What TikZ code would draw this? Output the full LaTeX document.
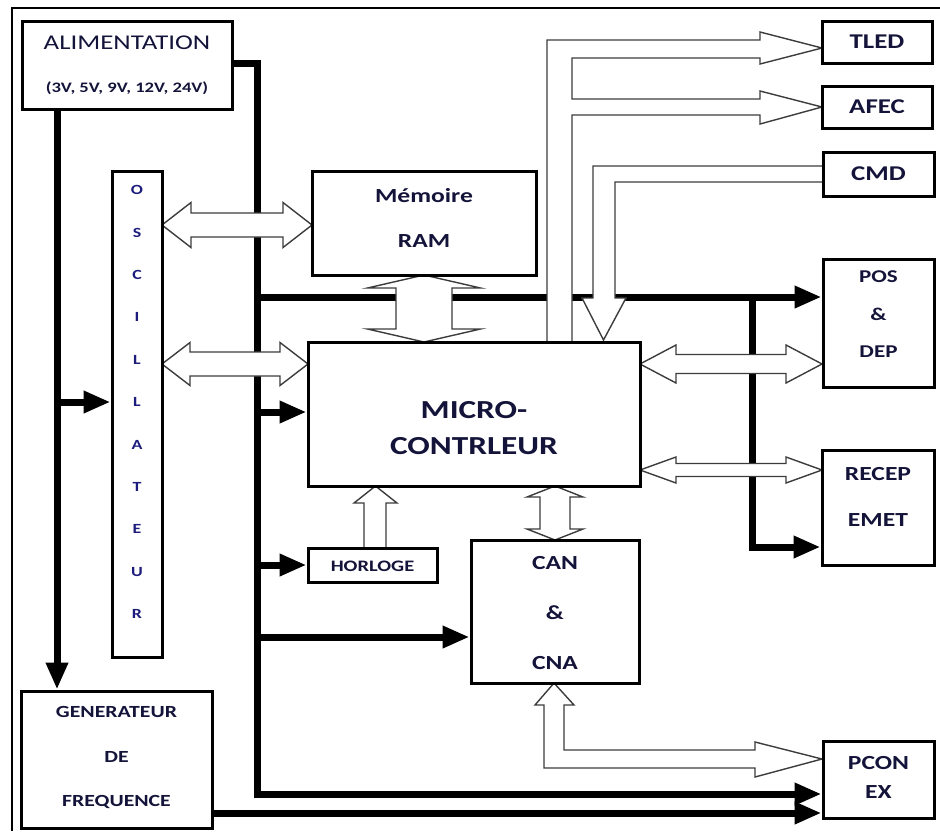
\documentclass[tikz,border=0pt]{standalone}
\usepackage{fontspec}
\setmainfont{Carlito}[FakeStretch=1.28]
\usetikzlibrary{arrows.meta,calc}
\pgfdeclarelayer{bg}
\pgfsetlayers{bg,main}
\definecolor{txtc}{HTML}{14143A}
\definecolor{oscc}{HTML}{1C1C7C}
\definecolor{holc}{HTML}{3C3C3C}
\tikzset{
 box/.style={draw=black, line width=3pt, fill=white, inner sep=0pt},
 lbl/.style={text=txtc, align=center, inner sep=0pt},
 power/.style={line width=7pt, draw=black, line join=miter},
 tipa/.style={-{Triangle[length=27pt,width=21pt]}},
 hollow/.style={draw=holc, line width=1.4pt, fill=white, line join=miter},
 frameline/.style={line width=2.5pt, draw=black}
}
\newcommand\fsz[2]{\fontsize{#1}{#2}\selectfont}
% horizontal double hollow arrow: x1 x2 yc shaft-half head-half head-length
\newcommand\hdbl[6]{\draw[hollow] (#1,#3) -- ({#1+#6},{#3-#5}) -- ({#1+#6},{#3-#4}) -- ({#2-#6},{#3-#4}) -- ({#2-#6},{#3-#5}) -- (#2,#3) -- ({#2-#6},{#3+#5}) -- ({#2-#6},{#3+#4}) -- ({#1+#6},{#3+#4}) -- ({#1+#6},{#3+#5}) -- cycle;}
% vertical double hollow arrow: y1 y2 xc shaft-half head-half head-length
\newcommand\vdbl[6]{\draw[hollow] (#3,#1) -- ({#3-#5},{#1+#6}) -- ({#3-#4},{#1+#6}) -- ({#3-#4},{#2-#6}) -- ({#3-#5},{#2-#6}) -- (#3,#2) -- ({#3+#5},{#2-#6}) -- ({#3+#4},{#2-#6}) -- ({#3+#4},{#1+#6}) -- ({#3+#5},{#1+#6}) -- cycle;}
\begin{document}
\begin{tikzpicture}[x=1pt,y=-1pt]
\useasboundingbox (0,0) rectangle (940,831);
\draw[frameline] (940,8) -- (12,8) -- (12,831);

% boxes
\node[box, minimum width=210, minimum height=88] (alim) at (127,65) {};
\node[box, minimum width=50, minimum height=486] (osc) at (137,414) {};
\node[box, minimum width=224, minimum height=104] (ram) at (424,223) {};
\node[box, minimum width=332, minimum height=144] (micro) at (474,414) {};
\node[box, minimum width=129, minimum height=34] (horloge) at (372.5,565) {};
\node[box, minimum width=168, minimum height=143] (can) at (555,611.5) {};
\node[box, minimum width=110, minimum height=42] (tled) at (877,42) {};
\node[box, minimum width=110, minimum height=42] (afec) at (877,107) {};
\node[box, minimum width=111, minimum height=44] (cmd) at (878.5,174) {};
\node[box, minimum width=111, minimum height=128] (pos) at (878.5,323) {};
\node[box, minimum width=112, minimum height=115] (recep) at (878,507.5) {};
\node[box, minimum width=111, minimum height=77] (pcon) at (878.5,779.5) {};
\node[box, minimum width=191, minimum height=137] (gen) at (116.5,759.5) {};

% labels
\node[lbl, font=\fsz{21}{21}] (alimT) at (127,43) {ALIMENTATION};
\node[lbl, font=\fsz{14.5}{14.5}\bfseries] (alimV) at (127,88) {(3V, 5V, 9V, 12V, 24V)};
\node[lbl, text=oscc, font=\fsz{14}{42.4}\bfseries] (oscT) at (137,402) {O\\S\\C\\I\\L\\L\\A\\T\\E\\U\\R};
\node[lbl, font=\fsz{20}{45}\bfseries] (ramT) at (424,218) {Mémoire\\RAM};
\node[lbl, font=\fsz{26}{36}\bfseries] (microT) at (474,428) {MICRO-\\CONTRLEUR};
\node[lbl, font=\fsz{16}{16}\bfseries] (horT) at (372.5,566) {HORLOGE};
\node[lbl, font=\fsz{20}{50}\bfseries] (canT) at (555,613) {CAN\\\&\\CNA};
\node[lbl, font=\fsz{21}{21}\bfseries] (tledT) at (tled) {TLED};
\node[lbl, font=\fsz{21}{21}\bfseries] (afecT) at (afec) {AFEC};
\node[lbl, font=\fsz{21}{21}\bfseries] (cmdT) at (cmd) {CMD};
\node[lbl, font=\fsz{18}{37.5}\bfseries] (posT) at (878.5,314.5) {POS\\\&\\DEP};
\node[lbl, font=\fsz{20}{46}\bfseries] (recepT) at (878,497) {RECEP\\EMET};
\node[lbl, font=\fsz{20}{29}\bfseries] (pconT) at (878.5,777.5) {PCON\\EX};
\node[lbl, font=\fsz{17}{44.5}\bfseries] (genT) at (116.5,757.5) {GENERATEUR\\DE\\FREQUENCE};

% helper coordinates
\coordinate (busX) at (257,0);
\coordinate (leftX) at (57,0);
\coordinate (tapX) at (752,0);
\coordinate (yAlim) at (0,63);
\coordinate (yPos) at (0,297);
\coordinate (yMic) at (0,412);
\coordinate (yRec) at (0,547);
\coordinate (yCan) at (0,637);
\coordinate (yOsc) at (0,402);
\coordinate (yBus) at (0,794);
\coordinate (yGen) at (0,813);

\begin{pgfonlayer}{bg}
% thick supply lines
\draw[power,tipa] (alim.east |- yAlim) -- (busX |- yAlim) -- (busX |- yBus) -- (pcon.west |- yBus);
\draw[power,tipa] (busX |- yPos) -- (pos.west |- yPos);
\draw[power,tipa] (busX |- yMic) -- (micro.west |- yMic);
\draw[power,tipa] (busX |- horloge.west) -- (horloge.west);
\draw[power,tipa] (busX |- yCan) -- (can.west |- yCan);
\draw[power,tipa] (tapX |- yPos) -- (tapX |- yRec) -- (recep.west |- yRec);
\draw[power,tipa] (leftX |- alim.south) -- (leftX |- gen.north);
\draw[power,tipa] (leftX |- yOsc) -- (osc.west |- yOsc);
\draw[power,tipa] (gen.east |- yGen) -- (pcon.west |- yGen);

% hollow data arrows
\hdbl{162}{312}{225}{12}{22.5}{29}
\hdbl{162}{308}{364}{12}{21.5}{28}
\vdbl{275}{342}{424}{28}{56.5}{13}
\hdbl{640}{822}{364}{9.5}{19}{36}
\hdbl{640}{822}{470}{6.5}{13}{36}
\vdbl{486}{540}{555}{15}{28}{11}
\draw[hollow] (364,548) -- (364,503) -- (354,503) -- (375.5,486) -- (397,503) -- (386,503) -- (386,548) -- cycle;
\draw[hollow] (554,683) -- (574,705) -- (564,705) -- (564,750) -- (755,750) -- (755,742) -- (822,759) -- (755,777) -- (755,768) -- (544,768) -- (544,705) -- (535,705) -- cycle;
\draw[hollow] (547,342) -- (547,40) -- (760,40) -- (760,32) -- (822,48) -- (760,64) -- (760,58) -- (572,58) -- (572,99) -- (760,99) -- (760,91) -- (822,107) -- (760,124) -- (760,115) -- (572,115) -- (572,342) -- cycle;
\draw[hollow] (823,166) -- (593,166) -- (593,298) -- (582,298) -- (603.5,340) -- (626,298) -- (615,298) -- (615,182) -- (823,182) -- cycle;
\end{pgfonlayer}
\end{tikzpicture}
\end{document}
